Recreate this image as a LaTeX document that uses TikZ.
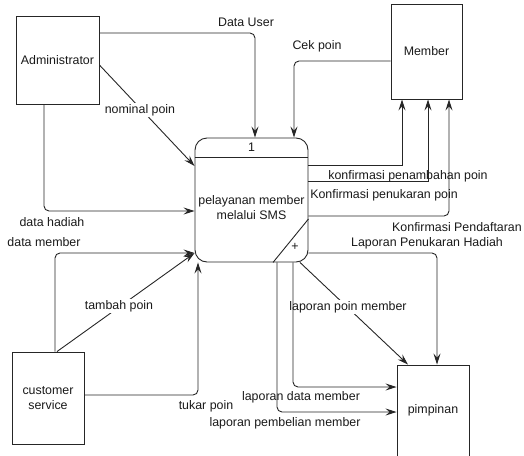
\documentclass[tikz,border=0pt]{standalone}
\usepackage{fontspec}
\setmainfont{Liberation Sans}
\usetikzlibrary{arrows.meta}
\begin{document}
\begin{tikzpicture}[x=1pt,y=-1pt,
  every node/.style={font=\fontsize{12.4}{15}\selectfont, text=black!90},
  ent/.style={draw=black!85, line width=0.9pt, rectangle, inner sep=0pt},
  flow/.style={draw=black!85, line width=0.9pt, -{Stealth[length=11pt,width=7pt,inset=4pt]}},
  lbl/.style={inner sep=1pt},
  wlbl/.style={inner sep=1pt, fill=white}]
\useasboundingbox (0,0) rectangle (524,455);
% entities
\node[ent, minimum width=83pt, minimum height=88pt] (admin) at (57.5,60) {Administrator};
\node[ent, minimum width=71pt, minimum height=95pt] (member) at (426.5,51.5) {Member};
\node[ent, minimum width=72pt, minimum height=92pt, align=center] (cs) at (48,398) {customer\\service};
\node[ent, minimum width=72pt, minimum height=94pt] (pimp) at (433,412) {};
\node (pimptext) at (433,410) {pimpinan};
% process
\node[ent, rounded corners=12pt, minimum width=113pt, minimum height=124pt] (proc) at (251.5,200) {};
\node[align=center] (proctext) at (251.5,208) {pelayanan member\\melalui SMS};
\node (pnum) at (251.5,147) {1};
\draw[black!85, line width=0.9pt] (proc.west |- 0,157) -- (proc.east |- 0,157);
\draw[black!85, line width=0.9pt] (proc.east |- 0,219) -- (proc.south -| 273,0);
\node (plus) at (295,247) {+};
% flows into process
\draw[flow, rounded corners=5pt] (admin.east |- 0,33) -| (proc.north -| 255,0);
\node[lbl] (l1) at (246,22) {Data User};
\draw[flow, rounded corners=5pt] (member.west |- 0,61) -| (proc.north -| 294,0);
\node[lbl] (l2) at (317,46) {Cek poin};
\draw[flow] (admin.east |- 0,65) -- (proc.west |- 0,166);
\node[wlbl] (l3) at (140,110) {nominal poin};
\draw[flow, rounded corners=5pt] (admin.south -| 44,0) |- (proc.west |- 0,211);
\node[lbl] (l4) at (52,222) {data hadiah};
\draw[flow, rounded corners=5pt] (cs.north -| 55,0) |- (proc.west |- 0,253);
\node[lbl] (l5) at (44,242) {data member};
\draw[flow] (cs.north -| 57,0) -- (proc.west |- 0,253);
\node[wlbl] (l6) at (119,306) {tambah poin};
\draw[flow, rounded corners=5pt] (cs.east |- 0,395) -| (proc.south -| 198,0);
\node[lbl] (l7) at (206,406) {tukar poin};
% flows to member
\draw[flow] (proc.east |- 0,165) -| (member.south -| 402,0);
\draw[flow] (proc.east |- 0,181) -| (member.south -| 428,0);
\draw[flow, rounded corners=5pt] (proc.east |- 0,216) -| (member.south -| 449,0);
\node[lbl] (l8) at (408,176) {konfirmasi penambahan poin};
\node[lbl] (l9) at (384,195) {Konfirmasi penukaran poin};
\node[lbl] (l10) at (457,227) {Konfirmasi Pendaftaran};
% flows to pimpinan
\draw[flow, rounded corners=5pt] (proc.east |- 0,253) -| (pimp.north -| 437,0);
\node[lbl] (l11) at (427,243) {Laporan Penukaran Hadiah};
\draw[flow] (proc.south -| 300,0) -- (pimp.north -| 408,0);
\node[wlbl] (l12) at (348,307) {laporan poin member};
\draw[flow, rounded corners=5pt] (proc.south -| 293,0) |- (pimp.west |- 0,387);
\node[lbl] (l13) at (301,397) {laporan data member};
\draw[flow, rounded corners=5pt] (proc.south -| 277,0) |- (pimp.west |- 0,412);
\node[lbl] (l14) at (285,423) {laporan pembelian member};
\end{tikzpicture}
\end{document}
